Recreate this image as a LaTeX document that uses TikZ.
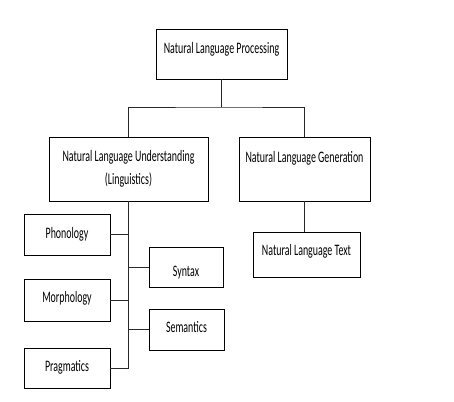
\documentclass[tikz,border=0pt]{standalone}
\usepackage{fontspec}
\setmainfont{Carlito}[FakeStretch=0.62]
\usepackage{tikz}
\definecolor{linkgray}{RGB}{40,40,40}
\tikzset{
  box/.style={draw=black, line width=0.8pt, fill=white, inner sep=0pt, align=center,
    font=\fontsize{16}{23}\selectfont},
  oneline/.style={box, text height=11pt, text depth=0.6pt},
  link/.style={draw=linkgray, line width=0.8pt}
}

\begin{document}
\begin{tikzpicture}[x=1pt, y=-1pt]
\useasboundingbox (0,0) rectangle (454,401);

% Top level
\node[oneline, minimum width=131pt, minimum height=50pt, text depth=12.6pt] (nlp) at (221.5,54) {Natural Language Processing};

% Second level
\node[box, minimum width=159pt, minimum height=64pt] (nlu) at (128.5,169) {Natural Language Understanding\\(Linguistics)};
\node[oneline, minimum width=131pt, minimum height=64pt, text depth=24.6pt] (nlg) at (304.5,169) {Natural Language Generation};
\node[oneline, minimum width=107pt, minimum height=45pt, text depth=9.6pt] (nlt) at (306.5,254.5) {Natural Language Text};

% Linguistic levels
\node[oneline, minimum width=86pt, minimum height=41pt, text depth=3.6pt] (pho) at (67,234.5) {Phonology};
\node[oneline, minimum width=86pt, minimum height=42pt, text depth=6.6pt] (mor) at (67,300) {Morphology};
\node[oneline, minimum width=86pt, minimum height=40pt, text depth=4.6pt] (pra) at (67,368) {Pragmatics};
\node[oneline, minimum width=74pt, minimum height=40pt, text height=19pt] (syn) at (186,267) {Syntax};
\node[oneline, minimum width=75pt, minimum height=41pt, text depth=5.6pt] (sem) at (186.5,329.5) {Semantics};

% Connectors
\coordinate (split) at (nlp.south |- 0,107);
\coordinate (spine) at (nlu.south |- pra.east);
\draw[link] (nlp.south) -- (split);
\draw[link] (nlu.north) |- (split) -| (nlg.north);
\draw[link] (nlg.south) -- (nlg.south |- nlt.north);
\draw[link] (nlu.south) -- (spine);
\foreach \n in {pho,mor,pra} {
  \draw[link] (\n.east) -- (\n.east -| spine);
}
\foreach \n in {syn,sem} {
  \draw[link] (\n.west) -- (\n.west -| spine);
}

\end{tikzpicture}
\end{document}
